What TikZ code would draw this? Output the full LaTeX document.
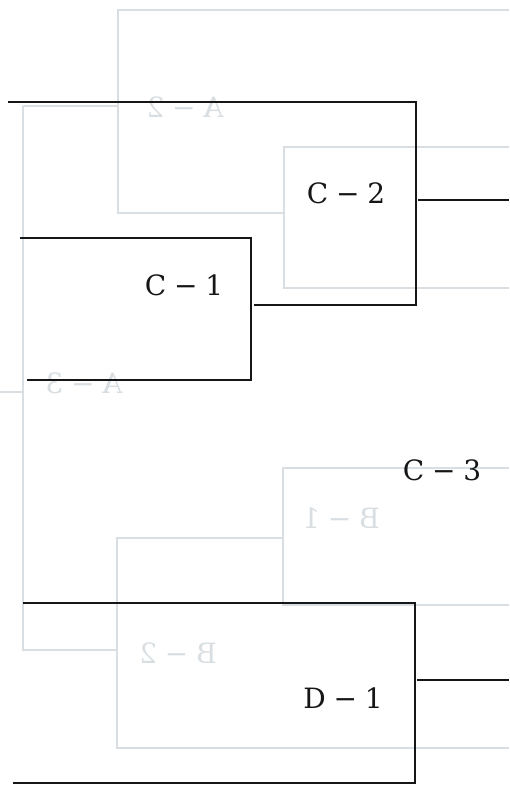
\documentclass[tikz,border=0pt]{standalone}
\usepackage{fontspec}
\usepackage{tikz}
\usetikzlibrary{positioning}
\newfontfamily\matchfont{DejaVu Serif}
\newcommand{\gap}{\hspace{0.28em}}
\definecolor{inkColor}{RGB}{22,22,22}
\definecolor{ghostColor}{RGB}{216,222,226}

\begin{document}
\begin{tikzpicture}[x=1pt, y=-1pt,
    line/.style={draw=inkColor, line width=1.6pt},
    ghost/.style={draw=ghostColor, line width=1.4pt},
    match/.style={font=\matchfont\fontsize{28}{33}\selectfont, text=inkColor, inner sep=0pt},
    ghostlabel/.style={font=\matchfont\fontsize{28}{33}\selectfont, text=ghostColor, inner sep=0pt, xscale=-1}]

    \useasboundingbox (0,0) rectangle (509,786);

    % show-through from the back of the page
    \draw[ghost] (23,106) -- (118,106);
    \draw[ghost] (23,106) -- (23,650) -- (117,650);
    \draw[ghost] (0,392) -- (23,392);
    \draw[ghost] (509,10) -- (118,10) -- (118,213) -- (284,213);
    \draw[ghost] (509,147) -- (284,147) -- (284,288) -- (509,288);
    \draw[ghost] (509,468) -- (283,468) -- (283,605) -- (509,605);
    \draw[ghost] (283,538) -- (117,538) -- (117,748) -- (509,748);
    \node (a2) [ghostlabel] at (185,107) {A\gap−\gap2};
    \node (a3) [ghostlabel] at (84,383) {A\gap−\gap3};
    \node (b1) [ghostlabel] at (341,518) {B\gap−\gap1};
    \node (b2) [ghostlabel] at (178,653) {B\gap−\gap2};

    % match labels
    \node (c2) [match] at (346,193) {C\gap−\gap2};
    \node (c1) [match] at (184,285) {C\gap−\gap1};
    \node (c3) [match] at (442,470) {C\gap−\gap3};
    \node (d1) [match] at (343,698) {D\gap−\gap1};

    % bracket corners
    \coordinate (c2top) at (8,102);
    \coordinate (c2ne) at (416,102);
    \coordinate (c2se) at (416,305);
    \coordinate (c2bot) at (254,305);
    \coordinate (c2out) at (418,200);
    \coordinate (c2end) at (509,200);
    \coordinate (c1top) at (20,238);
    \coordinate (c1ne) at (251,238);
    \coordinate (c1se) at (251,380);
    \coordinate (c1bot) at (27,380);
    \coordinate (d1top) at (23,603);
    \coordinate (d1ne) at (415,603);
    \coordinate (d1se) at (415,783);
    \coordinate (d1bot) at (13,783);
    \coordinate (d1out) at (417,680);
    \coordinate (d1end) at (509,680);

    \draw[line] (c2top) -- (c2ne) -- (c2se) -- (c2bot);
    \draw[line] (c2out) -- (c2end);
    \draw[line] (c1top) -- (c1ne) -- (c1se) -- (c1bot);
    \draw[line] (d1top) -- (d1ne) -- (d1se) -- (d1bot);
    \draw[line] (d1out) -- (d1end);

\end{tikzpicture}
\end{document}
